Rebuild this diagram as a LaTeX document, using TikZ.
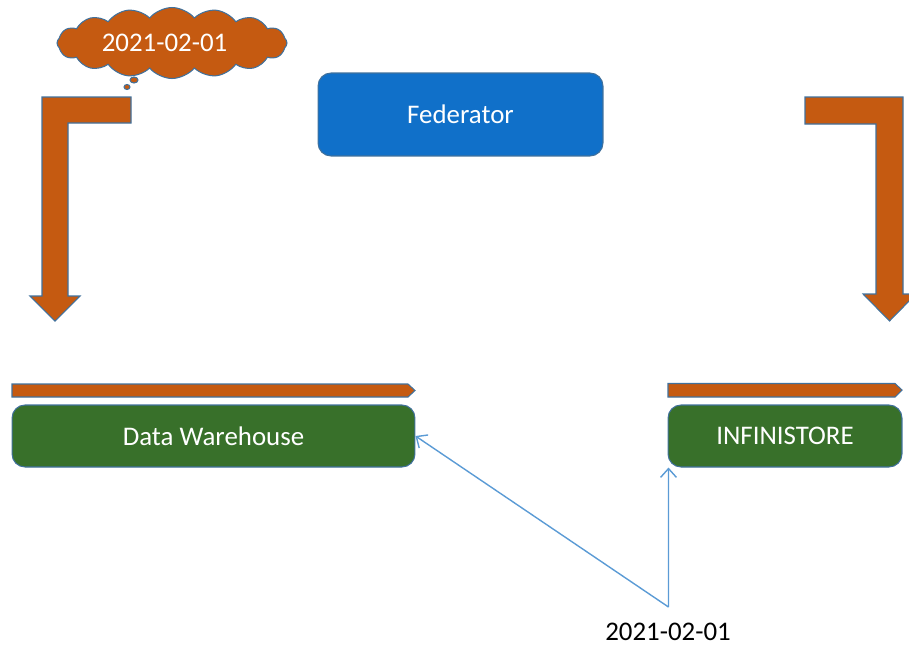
\documentclass[tikz,border=0pt]{standalone}
\usepackage{fontspec}
\setmainfont{Carlito}
\usetikzlibrary{shapes.symbols,arrows.meta}
\definecolor{rust}{HTML}{C55A11}
\definecolor{edge}{HTML}{41719C}
\definecolor{fedblue}{HTML}{1070C9}
\definecolor{storegreen}{HTML}{38702A}
\definecolor{linkblue}{HTML}{5B9BD5}
\tikzset{
  txt/.style={font=\fontsize{15.3}{18}\selectfont},
  block/.style={txt, draw=edge, line width=0.6pt, rounded corners=0.26cm, text=white, inner sep=0pt},
  flow/.style={fill=rust, draw=edge, line width=0.6pt, line join=miter},
  link/.style={draw=linkblue, line width=0.8pt, -{Straight Barb[length=5pt,width=9pt]}}
}
\begin{document}
\begin{tikzpicture}[x=0.02cm,y=-0.02cm]
\useasboundingbox (0,0) rectangle (909,650);

% thought cloud with its two trailing bubbles
\node[txt, cloud, cloud puffs=16, cloud puff arc=100, cloud ignores aspect,
      fill=rust, draw=edge, line width=0.6pt, text=white,
      minimum width=4.6cm, minimum height=1.42cm, inner sep=0pt] (cloud) at (172,43)
      {\hspace*{-0.3cm}2021-02-01};
\fill[rust, draw=edge, line width=0.6pt] (134,80) ellipse [x radius=4, y radius=3];
\fill[rust, draw=edge, line width=0.6pt] (127,87) ellipse [x radius=3, y radius=2.5];

% bent arrows coming down on each side
\path[flow] (42,97) -- (131,97) -- (131,123) -- (68,123) -- (68,296) -- (80,296)
  -- (55,321) -- (30,296) -- (42,296) -- cycle;
\path[flow] (805,97) -- (903,97) -- (903,294) -- (916,294) -- (889.5,321)
  -- (863,294) -- (876,294) -- (876,124) -- (805,124) -- cycle;

% central federator
\node[block, fill=fedblue, minimum width=5.7cm, minimum height=1.66cm] (fed) at (460.5,114.5) {Federator};

% thin progress bars above the stores
\path[flow] (12,384) -- (408,384) -- (415,390.5) -- (408,397) -- (12,397) -- cycle;
\path[flow] (668,383.5) -- (895,383.5) -- (902,390) -- (895,397) -- (668,397) -- cycle;

% stores
\node[block, fill=storegreen, minimum width=8.06cm, minimum height=1.24cm] (dw) at (213.5,436) {Data Warehouse};
\node[block, fill=storegreen, minimum width=4.68cm, minimum height=1.24cm] (inf) at (785,436) {INFINISTORE};

% date label and its links
\node[txt] (date) at (668,632) {2021-02-01};
\coordinate (hub) at (668.5,607);
\draw[link] (hub) -- (dw.east);
\draw[link] (hub) -- ([xshift=0.02cm]inf.south west);
\end{tikzpicture}
\end{document}
